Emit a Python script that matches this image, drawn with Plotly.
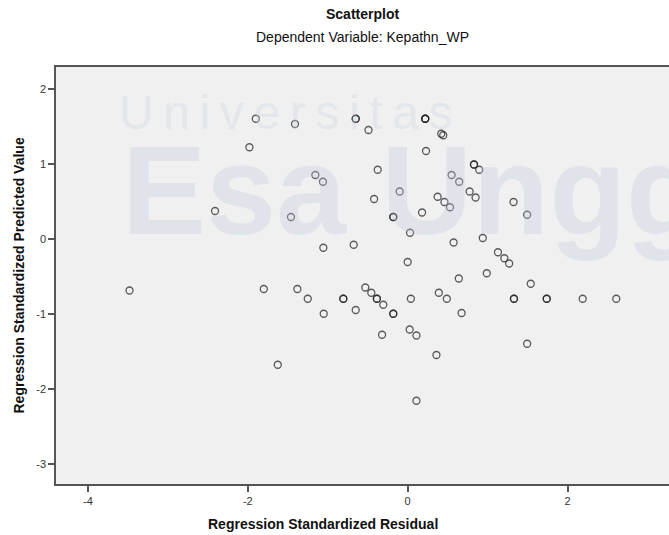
import plotly.graph_objects as go

# Regression standardized residual (x) vs standardized predicted value (y)
residual = [
    -3.48, -2.41, -1.90, -1.98, -1.41, -1.46, -1.155, -1.06, -1.055, -0.675,
    -0.65, -0.65, -0.49, -0.375, -0.42, -0.10, -0.18, -0.18, 0.03, 0.18,
    0.22, 0.22, 0.22, 0.23, 0.42, 0.445, 0.375, 0.46, 0.53, 0.55,
    0.645, 0.775, 0.85, 0.83, 0.83, 0.895, 1.325, 1.495, 0.0, -1.80,
    -1.38, -1.25, -0.805, -0.805, -1.05, -0.65, -0.53, -0.455, -0.385, -0.385,
    -0.305, -0.18, -0.18, -0.32, 0.04, 0.025, 0.11, 0.39, 0.49, 0.36,
    -1.625, 0.11, 0.575, 0.94, 1.13, 1.21, 1.27, 0.64, 0.99, 1.54,
    1.33, 1.33, 1.74, 1.74, 2.19, 2.61, 0.675, 1.495,
]
predicted = [
    -0.69, 0.37, 1.60, 1.22, 1.53, 0.29, 0.85, 0.76, -0.12, -0.08,
    1.60, 1.60, 1.45, 0.92, 0.53, 0.63, 0.29, 0.29, 0.08, 0.35,
    1.60, 1.60, 1.60, 1.17, 1.40, 1.38, 0.56, 0.49, 0.42, 0.85,
    0.76, 0.63, 0.55, 0.99, 0.99, 0.92, 0.49, 0.32, -0.31, -0.67,
    -0.67, -0.80, -0.80, -0.80, -1.00, -0.95, -0.65, -0.72, -0.80, -0.80,
    -0.88, -1.00, -1.00, -1.28, -0.80, -1.21, -1.29, -0.72, -0.80, -1.55,
    -1.68, -2.16, -0.05, 0.01, -0.18, -0.26, -0.33, -0.53, -0.46, -0.60,
    -0.80, -0.80, -0.80, -0.80, -0.80, -0.80, -0.99, -1.40,
]

x_ticks = [-4, -2, 0, 2]
y_ticks = [-3, -2, -1, 0, 1, 2]

FONT = "Arial, Liberation Sans, sans-serif"
AXIS_COLOR = "#555555"

fig = go.Figure()
fig.add_trace(go.Scatter(
    x=residual, y=predicted, mode="markers",
    marker=dict(symbol="circle-open", size=7,
                color="rgba(30,30,30,0.72)",
                line=dict(width=1.3, color="rgba(30,30,30,0.72)")),
    hoverinfo="x+y", showlegend=False,
))

# faint university watermark in the plot background
fig.add_annotation(text="\u2009".join("Universitas"), xref="paper", yref="paper",
                   x=0.100, y=0.891, xanchor="left", yanchor="middle",
                   showarrow=False,
                   font=dict(family=FONT, size=48, weight=300,
                             color="rgba(205,212,225,0.35)"))
fig.add_annotation(text="Esa Unggul", xref="paper", yref="paper",
                   x=0.105, y=0.703, xanchor="left", yanchor="middle",
                   showarrow=False,
                   font=dict(family=FONT, size=126, weight="bold",
                             color="rgba(190,200,220,0.32)"))

# titles
fig.add_annotation(text="<b>Scatterplot</b>", xref="paper", yref="paper",
                   x=0.5, y=1, yshift=53, yanchor="middle", showarrow=False,
                   font=dict(family=FONT, size=14, color="#111"))
fig.add_annotation(text="Dependent Variable: Kepathn_WP", xref="paper",
                   yref="paper", x=0.5, y=1, yshift=30, yanchor="middle",
                   showarrow=False,
                   font=dict(family=FONT, size=14, color="#111"))
fig.add_annotation(text="<b>Regression Standardized Residual</b>",
                   xref="paper", yref="paper", x=0.436, y=0, yshift=-40,
                   yanchor="middle", showarrow=False,
                   font=dict(family=FONT, size=14, color="#111"))
fig.add_annotation(text="<b>Regression Standardized Predicted Value</b>",
                   xref="paper", yref="paper", x=0, xshift=-38, y=0.5,
                   xanchor="center", yanchor="middle",
                   textangle=-90, showarrow=False,
                   font=dict(family=FONT, size=14, color="#111"))

fig.update_xaxes(range=[-4.4, 3.27], tickvals=x_ticks,
                 ticktext=[str(v) for v in x_ticks], ticks="outside",
                 ticklen=6, tickwidth=1.5, tickcolor=AXIS_COLOR,
                 showline=True, linecolor=AXIS_COLOR, linewidth=1.5,
                 mirror=True, showgrid=False, zeroline=False,
                 tickfont=dict(family=FONT, size=11, color="#333"))
fig.update_yaxes(range=[-3.27, 2.29], tickvals=y_ticks,
                 ticktext=[str(v) for v in y_ticks], ticks="outside",
                 ticklen=6, tickwidth=1.5, tickcolor=AXIS_COLOR,
                 showline=True, linecolor=AXIS_COLOR, linewidth=1.5,
                 mirror=False, showgrid=False, zeroline=False,
                 tickfont=dict(family=FONT, size=11, color="#333"))

fig.update_layout(
    width=669, height=535,
    margin=dict(l=56, r=0, t=67, b=51),
    plot_bgcolor="#f0f0f0", paper_bgcolor="white",
    showlegend=False,
)

fig.write_html("out.html", config={"displayModeBar": False},
               post_script="document.body.style.margin='0';")
